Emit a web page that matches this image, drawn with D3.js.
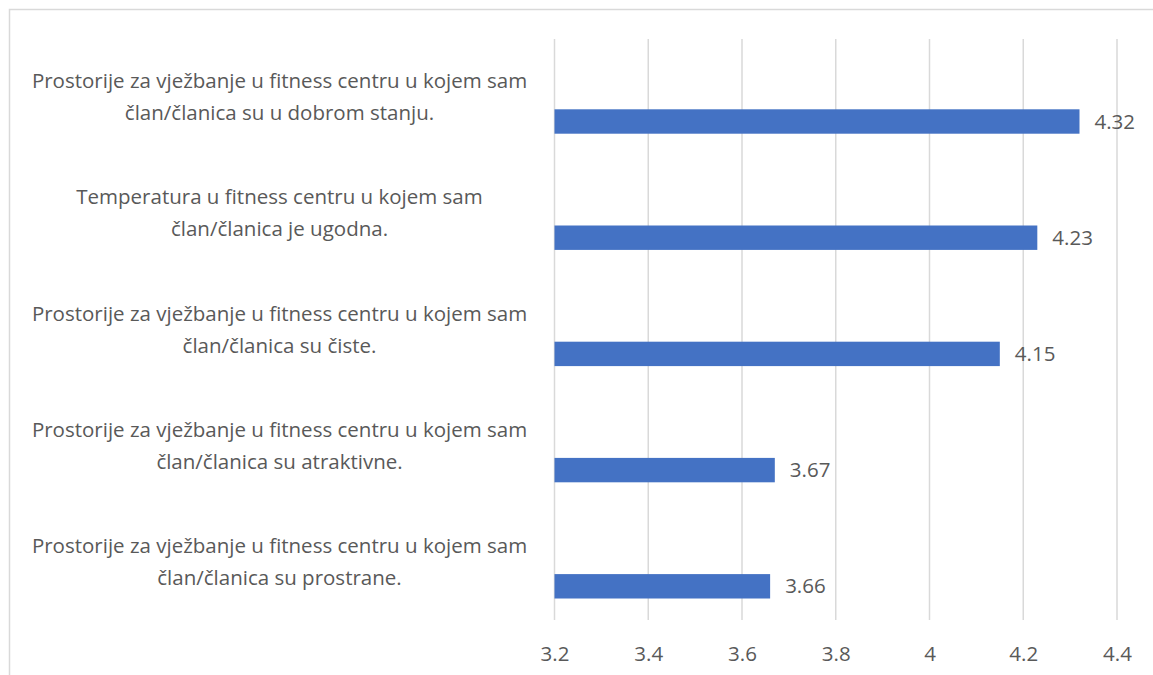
<!DOCTYPE html>
<html>
<head>
<meta charset="utf-8">
<script src="https://cdn.jsdelivr.net/npm/d3@7"></script>
<style>
  body { margin: 0; background: #fff; }
  text { font-family: "Open Sans", "Noto Sans", sans-serif; fill: #595959; }
</style>
</head>
<body>
<svg id="chart"></svg>
<script>
// data, top to bottom as shown
const categories = [
  ["Prostorije za vježbanje u fitness centru u kojem sam", "član/članica su u dobrom stanju."],
  ["Temperatura u fitness centru u kojem sam", "član/članica je ugodna."],
  ["Prostorije za vježbanje u fitness centru u kojem sam", "član/članica su čiste."],
  ["Prostorije za vježbanje u fitness centru u kojem sam", "član/članica su atraktivne."],
  ["Prostorije za vježbanje u fitness centru u kojem sam", "član/članica su prostrane."]
]
const values = [4.32, 4.23, 4.15, 3.67, 3.66]
const xTicks = [3.2, 3.4, 3.6, 3.8, 4, 4.2, 4.4]

const W = 1153, H = 675
const margin = { top: 39, right: 36, bottom: 55, left: 554.5 }
const width = W - margin.left - margin.right,
      height = H - margin.top - margin.bottom
const fs = 20.5

const svg = d3.select("#chart")
    .attr("width", W)
    .attr("height", H)

// chart border (only top/left edges visible in the frame)
svg.append("rect")
    .attr("x", 9.5).attr("y", 9.5)
    .attr("width", W + 20).attr("height", H + 20)
    .attr("fill", "none")
    .attr("stroke", "#d9d9d9")
    .attr("stroke-width", 1.5)

const g = svg.append("g")
    .attr("transform", "translate(" + margin.left + "," + margin.top + ")")

const xScale = d3.scaleLinear()
    .domain([3.2, 4.4])
    .range([0, width])

const yScale = d3.scaleBand()
    .domain(d3.range(categories.length))
    .range([0, height])
    .padding(0)

// gridlines
g.append("g")
    .selectAll("line")
    .data(xTicks)
    .enter().append("line")
    .attr("x1", d => xScale(d)).attr("x2", d => xScale(d))
    .attr("y1", 0).attr("y2", height)
    .attr("stroke", "#d9d9d9")
    .attr("stroke-width", 1.5)

// x axis labels
const xAxis = g.append("g")
    .attr("transform", "translate(0," + height + ")")
    .call(d3.axisBottom(xScale).tickValues(xTicks).tickFormat(d3.format("")).tickSize(0).tickPadding(26))
xAxis.select(".domain").remove()
xAxis.selectAll("text")
    .style("font-size", fs + "px")
    .style("font-family", null)
    .attr("fill", "#595959")

// bars sit in the lower part of each band
const bh = yScale.bandwidth()
g.append("g")
    .selectAll("rect")
    .data(values)
    .enter().append("rect")
    .attr("x", xScale(3.2))
    .attr("y", (d, i) => yScale(i) + bh * 0.605)
    .attr("width", d => xScale(d) - xScale(3.2))
    .attr("height", bh * 0.21)
    .attr("fill", "#4472c4")

// value labels
g.append("g")
    .selectAll("text")
    .data(values)
    .enter().append("text")
    .attr("x", d => xScale(d) + 15)
    .attr("y", (d, i) => yScale(i) + bh * 0.71)
    .attr("dy", "0.35em")
    .style("font-size", fs + "px")
    .text(d => d3.format(".2f")(d))

// category labels, two centred lines
const labels = svg.append("g")
    .selectAll("text")
    .data(categories)
    .enter().append("text")
    .attr("text-anchor", "middle")
    .attr("x", 279.5)
    .attr("y", (d, i) => margin.top + yScale(i) + bh / 2)
    .style("font-size", fs + "px")
labels.selectAll("tspan")
    .data(d => d)
    .enter().append("tspan")
    .attr("x", 279.5)
    .attr("dy", (d, j) => j === 0 ? "-9px" : "32px")
    .text(d => d)
</script>
</body>
</html>
